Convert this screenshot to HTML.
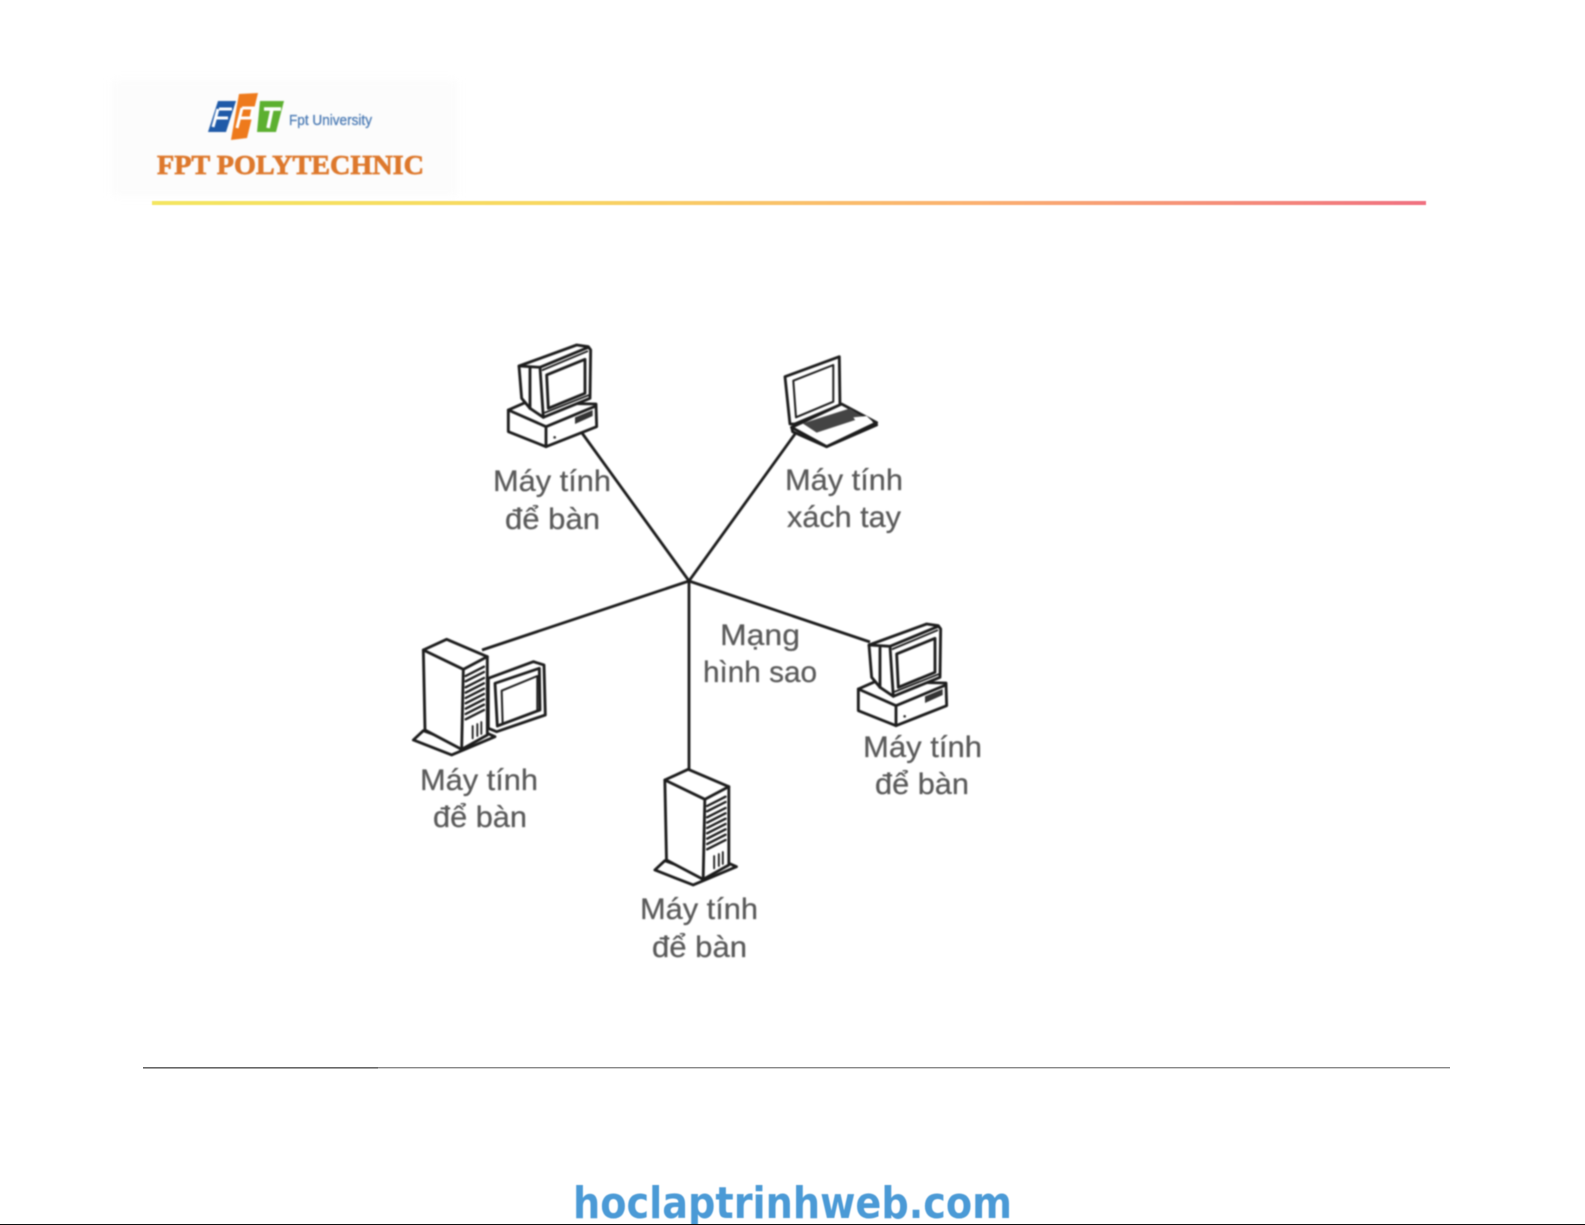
<!DOCTYPE html>
<html lang="vi">
<head>
<meta charset="utf-8">
<title>Mạng hình sao</title>
<style>
html,body{margin:0;padding:0;background:#fff;width:1585px;height:1225px;overflow:hidden}
svg{display:block}
.lb{font-family:"Liberation Sans",sans-serif;font-size:30px;fill:#595959;stroke:#595959;stroke-width:.25}
.ln{fill:none;stroke:#1c1c1c;stroke-width:8.5;stroke-linejoin:round;stroke-linecap:round}
.th{fill:none;stroke:#1c1c1c;stroke-width:5.5;stroke-linejoin:round;stroke-linecap:round}
.fw{fill:#fff;stroke:#1c1c1c;stroke-width:8.5;stroke-linejoin:round}
</style>
</head>
<body>
<svg width="1585" height="1225" viewBox="0 0 1585 1225" xmlns="http://www.w3.org/2000/svg">
<defs>
<linearGradient id="g" x1="0" x2="1" y1="0" y2="0">
<stop offset="0" stop-color="#f4e660"/><stop offset=".3" stop-color="#f8d860"/><stop offset=".65" stop-color="#fbb070"/><stop offset="1" stop-color="#f07080"/>
</linearGradient>
<g id="pc">
<path class="fw" d="M85 240L135 218L348 222L350 290L198 350L85 305Z"/>
<path class="ln" d="M85 240L198 290L348 228M198 290V350"/>
<path class="fw" d="M117 108L290 45L325 50L332 60L330 205L190 262L150 235L125 205Z"/>
<path class="ln" d="M117 108L180 112L325 52M180 112L190 262M150 112V235"/>
<path class="ln" d="M200 135L315 88L315 190L205 235Z"/>
<path class="th" d="M188 120L322 64M195 248L325 196"/>
<path d="M285 262L338 240V258L285 282Z" fill="#333"/>
<circle cx="224" cy="322" r="4" fill="#333"/>
</g>
<g id="tw">
<path class="fw" d="M40 420L70 392L180 432L262 400L285 410L155 465Z"/>
<path class="fw" d="M70 150L140 118L262 170L262 405L185 448L75 390Z"/>
<path class="ln" d="M70 150L190 208L262 170M190 208L185 448"/>
<path class="th" d="M197 228L252 200M197 244L252 216M197 262L252 234M197 278L252 250M197 294L252 266M197 310L252 282M197 326L252 298M197 342L252 314M197 358L252 330" style="stroke-width:7"/>
<path class="th" d="M218 415V378M232 408V372M244 402V366"/>
</g>
</defs>

<rect x="112" y="80" width="345" height="116" fill="#fcfcfc" style="filter:blur(4px)"/>

<g style="filter:blur(.9px)">
<path d="M218 101H236L226 132H208Z" fill="#1f5aa8"/>
<path d="M239 94L258 93L247 138L231 140Z" fill="#ee7a1c"/>
<path d="M260 101H284L276 132H257Z" fill="#5cb030"/>
<path d="M219 109H232M216 118H228M218 109L213 127" stroke="#fff" stroke-width="3" fill="none"/>
<path d="M242 108H253L251 118H239M242 108L237 128" stroke="#fff" stroke-width="3" fill="none"/>
<path d="M264 109H281M272 109L268 128" stroke="#fff" stroke-width="3.5"/>
<text x="289" y="125" font-family="'Liberation Sans',sans-serif" font-size="15" fill="#4a7ab4" stroke="#4a7ab4" stroke-width=".3" textLength="83" lengthAdjust="spacingAndGlyphs">Fpt University</text>
<text x="157" y="174" font-family="'Liberation Serif',serif" font-weight="700" font-size="27" fill="#dd782c" stroke="#dd782c" stroke-width=".7" textLength="267" lengthAdjust="spacingAndGlyphs">FPT POLYTECHNIC</text>
</g>
<rect x="152" y="201" width="1274" height="4" fill="url(#g)" style="filter:blur(.5px)"/>

<g style="filter:blur(.7px)">
<path d="M582 433L689 581L795 434M482 650L689 581L870 642M689 581V770" fill="none" stroke="#1c1c1c" stroke-width="2.8"/>

<g transform="translate(480,330) scale(.3333)"><use href="#pc"/></g>
<g transform="translate(830,609) scale(.3333)"><use href="#pc"/></g>
<g transform="translate(400,600) scale(.3333)"><use href="#tw"/></g>
<g transform="translate(641.5,730) scale(.3333)"><use href="#tw"/></g>

<g transform="translate(400,600) scale(.3333)">
<path class="fw" d="M265 235L400 185L432 195L436 345L290 395L265 385Z"/>
<path class="ln" d="M285 250L418 205L420 330L292 378Z"/>
<path class="ln" d="M305 272L412 228L412 332L308 372Z" style="stroke-width:6"/>
</g>

<g transform="translate(480,330) scale(.3333)">
<path class="fw" d="M915 140L1078 80L1080 225L945 282L930 282Z"/>
<path class="ln" d="M940 152L1060 105L1060 215L948 262Z" style="stroke-width:6"/>
<path class="fw" d="M935 292L1085 222L1190 278L1040 350Z"/>
<path d="M968 280L1110 235L1150 262L1010 308Z" fill="#444"/>
<path d="M1120 262L1160 258L1178 275L1140 290Z" fill="#fff"/>
<path d="M1020 322L1078 298L1095 308L1040 332Z" fill="#fff"/>
<path class="ln" d="M935 292L938 305L1040 350L1190 285" />
</g>

<g class="lb">
<text x="493" y="491" textLength="118" lengthAdjust="spacingAndGlyphs">Máy tính</text>
<text x="505" y="529" textLength="95" lengthAdjust="spacingAndGlyphs">để bàn</text>
<text x="785" y="490" textLength="118" lengthAdjust="spacingAndGlyphs">Máy tính</text>
<text x="787" y="527" textLength="114" lengthAdjust="spacingAndGlyphs">xách tay</text>
<text x="420" y="790" textLength="118" lengthAdjust="spacingAndGlyphs">Máy tính</text>
<text x="433" y="827" textLength="94" lengthAdjust="spacingAndGlyphs">để bàn</text>
<text x="640" y="919" textLength="118" lengthAdjust="spacingAndGlyphs">Máy tính</text>
<text x="652" y="957" textLength="95" lengthAdjust="spacingAndGlyphs">để bàn</text>
<text x="863" y="757" textLength="119" lengthAdjust="spacingAndGlyphs">Máy tính</text>
<text x="875" y="794" textLength="94" lengthAdjust="spacingAndGlyphs">để bàn</text>
<text x="720" y="645" textLength="80" lengthAdjust="spacingAndGlyphs">Mạng</text>
<text x="703" y="682" textLength="114" lengthAdjust="spacingAndGlyphs">hình sao</text>
</g>
</g>

<rect x="143" y="1067" width="235" height="1.6" fill="#666"/>
<rect x="378" y="1067" width="1072" height="1.4" fill="#888"/>

<text x="573" y="1218" font-family="'DejaVu Sans',sans-serif" font-weight="700" font-size="44" fill="#4b9ad6" textLength="439" lengthAdjust="spacingAndGlyphs" style="filter:blur(.5px)">hoclaptrinhweb.com</text>
<rect x="0" y="1224" width="1585" height="1" fill="#111"/>
</svg>
</body>
</html>
